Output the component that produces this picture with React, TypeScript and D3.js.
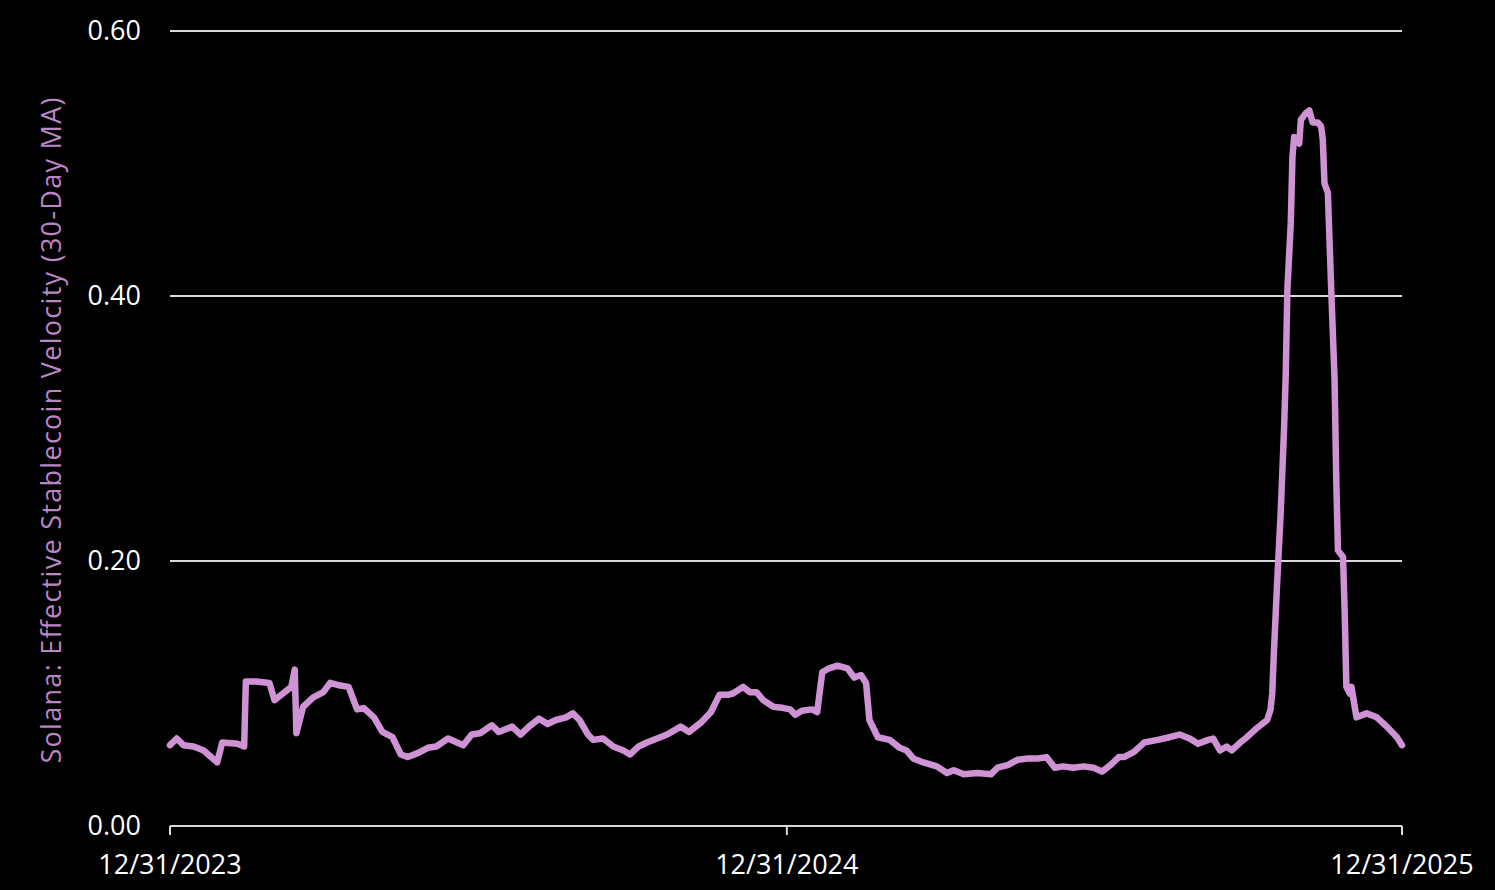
import React from 'react';
import * as d3 from 'd3';

// Solana effective stablecoin velocity, 30-day moving average
const dates: string[] = [
  '2023-12-31', '2024-01-04', '2024-01-08', '2024-01-14', '2024-01-20', '2024-01-28', '2024-01-31',
  '2024-02-09', '2024-02-13', '2024-02-14', '2024-02-20', '2024-02-28', '2024-03-02', '2024-03-07',
  '2024-03-12', '2024-03-14', '2024-03-15', '2024-03-19', '2024-03-25', '2024-03-31', '2024-04-04',
  '2024-04-10', '2024-04-15', '2024-04-20', '2024-04-24', '2024-04-30', '2024-05-05', '2024-05-11',
  '2024-05-16', '2024-05-20', '2024-05-26', '2024-06-01', '2024-06-06', '2024-06-13', '2024-06-22',
  '2024-06-27', '2024-07-02', '2024-07-09', '2024-07-13', '2024-07-21', '2024-07-26', '2024-07-31',
  '2024-08-06', '2024-08-11', '2024-08-16', '2024-08-22', '2024-08-26', '2024-08-30', '2024-09-04',
  '2024-09-07', '2024-09-13', '2024-09-19', '2024-09-25', '2024-09-29', '2024-10-04', '2024-10-09',
  '2024-10-15', '2024-10-21', '2024-10-29', '2024-11-03', '2024-11-10', '2024-11-16', '2024-11-21',
  '2024-11-26', '2024-11-29', '2024-12-05', '2024-12-09', '2024-12-13', '2024-12-17', '2024-12-23',
  '2024-12-29', '2025-01-02', '2025-01-05', '2025-01-09', '2025-01-15', '2025-01-18', '2025-01-21',
  '2025-01-25', '2025-01-30', '2025-02-05', '2025-02-09', '2025-02-13', '2025-02-16', '2025-02-18',
  '2025-02-23', '2025-03-02', '2025-03-08', '2025-03-12', '2025-03-16', '2025-03-22', '2025-03-30',
  '2025-04-05', '2025-04-09', '2025-04-15', '2025-04-23', '2025-05-01', '2025-05-05', '2025-05-11',
  '2025-05-17', '2025-05-23', '2025-05-29', '2025-06-03', '2025-06-08', '2025-06-13', '2025-06-19',
  '2025-06-25', '2025-07-01', '2025-07-06', '2025-07-11', '2025-07-16', '2025-07-19', '2025-07-25',
  '2025-07-31', '2025-08-08', '2025-08-15', '2025-08-21', '2025-08-27', '2025-09-01', '2025-09-07',
  '2025-09-10', '2025-09-14', '2025-09-18', '2025-09-21', '2025-09-26', '2025-09-30', '2025-10-06',
  '2025-10-12', '2025-10-14', '2025-10-15', '2025-10-16', '2025-10-18', '2025-10-20', '2025-10-22',
  '2025-10-23', '2025-10-24', '2025-10-26', '2025-10-27', '2025-10-28', '2025-10-31', '2025-11-01',
  '2025-11-04', '2025-11-06', '2025-11-08', '2025-11-11', '2025-11-13', '2025-11-14', '2025-11-15',
  '2025-11-17', '2025-11-18', '2025-11-19', '2025-11-21', '2025-11-22', '2025-11-23', '2025-11-26',
  '2025-11-27', '2025-11-28', '2025-11-30', '2025-12-01', '2025-12-04', '2025-12-10', '2025-12-16',
  '2025-12-22', '2025-12-28', '2025-12-31',
];

const velocity: number[] = [
  0.061, 0.066, 0.061, 0.060, 0.057, 0.048, 0.063,
  0.062, 0.060, 0.109, 0.109, 0.108, 0.095, 0.100,
  0.105, 0.118, 0.070, 0.090, 0.097, 0.101, 0.108,
  0.106, 0.105, 0.088, 0.089, 0.082, 0.071, 0.067,
  0.054, 0.052, 0.055, 0.059, 0.060, 0.066, 0.061,
  0.069, 0.070, 0.076, 0.071, 0.075, 0.069, 0.075,
  0.081, 0.077, 0.080, 0.082, 0.085, 0.080, 0.069,
  0.065, 0.066, 0.060, 0.057, 0.054, 0.060, 0.063,
  0.066, 0.069, 0.075, 0.071, 0.078, 0.086, 0.099,
  0.099, 0.100, 0.105, 0.101, 0.101, 0.095, 0.090,
  0.089, 0.088, 0.084, 0.087, 0.088, 0.086, 0.116,
  0.119, 0.121, 0.119, 0.112, 0.114, 0.108, 0.080,
  0.067, 0.065, 0.059, 0.057, 0.051, 0.048, 0.045,
  0.040, 0.042, 0.039, 0.040, 0.039, 0.044, 0.046,
  0.050, 0.051, 0.051, 0.052, 0.044, 0.045, 0.044,
  0.045, 0.044, 0.041, 0.046, 0.052, 0.052, 0.056,
  0.063, 0.065, 0.067, 0.069, 0.066, 0.062, 0.065,
  0.066, 0.057, 0.060, 0.057, 0.063, 0.067, 0.074,
  0.080, 0.088, 0.100, 0.131, 0.186, 0.236, 0.299,
  0.340, 0.405, 0.455, 0.505, 0.520, 0.515, 0.533,
  0.538, 0.540, 0.531, 0.531, 0.528, 0.518, 0.485,
  0.478, 0.442, 0.405, 0.337, 0.261, 0.208, 0.203,
  0.161, 0.105, 0.100, 0.105, 0.082, 0.085, 0.082,
  0.075, 0.067, 0.061,
];

const yTicks: number[] = [0, 0.2, 0.4, 0.6];
const xTicks: string[] = ['2023-12-31', '2024-12-31', '2025-12-31'];
const yLabel = 'Solana: Effective Stablecoin Velocity (30-Day MA)';

const W = 1495;
const H = 890;
const margin = { top: 31, right: 93, bottom: 64, left: 170 };
const FONT = '"Open Sans", sans-serif';
const LINE = '#cf92d4';

const parse = d3.timeParse('%Y-%m-%d');

const App = () => {
  const data = dates.map((d, i) => ({ date: parse(d) as Date, value: velocity[i] }));

  const x = d3.scaleTime()
    .domain([parse(xTicks[0]) as Date, parse(xTicks[xTicks.length - 1]) as Date])
    .range([margin.left, W - margin.right]);
  const y = d3.scaleLinear()
    .domain([0, 0.6])
    .range([H - margin.bottom, margin.top]);

  const line = d3.line<{ date: Date; value: number }>()
    .x(d => x(d.date))
    .y(d => y(d.value));

  const fmt = d3.timeFormat('%m/%d/%Y');
  const y0 = y(0);

  return (
    <div style={{ position: 'fixed', inset: 0, background: '#000' }}>
      <svg width={W} height={H} style={{ display: 'block' }}>
        <rect width={W} height={H} fill="#000" />

        {/* gridlines */}
        {yTicks.filter(t => t > 0).map(t => (
          <line key={t} x1={x.range()[0]} x2={x.range()[1]} y1={y(t)} y2={y(t)}
            stroke="#d9d9d9" strokeWidth={2} />
        ))}

        {/* baseline + ticks */}
        <line x1={x.range()[0]} x2={x.range()[1]} y1={y0} y2={y0} stroke="#d9d9d9" strokeWidth={2} />
        {xTicks.map(t => {
          const px = x(parse(t) as Date);
          return (
            <g key={t}>
              <line x1={px} x2={px} y1={y0} y2={y0 + 9} stroke="#d9d9d9" strokeWidth={2} />
              <text x={px} y={y0 + 48} textAnchor="middle" fill="#fff"
                fontFamily={FONT} fontSize={27}>{fmt(parse(t) as Date)}</text>
            </g>
          );
        })}

        {/* y tick labels */}
        {yTicks.map(t => (
          <text key={t} x={141} y={y(t)} dy="0.35em" textAnchor="end" fill="#fff"
            fontFamily={FONT} fontSize={27}>{t.toFixed(2)}</text>
        ))}

        <text transform={`translate(52,${(margin.top + y0) / 2 + 2}) rotate(-90)`}
          textAnchor="middle" dy="0.35em" fill="#bd85c6" fontFamily={FONT} fontSize={27}
          textLength={666} lengthAdjust="spacing">
          {yLabel}
        </text>

        <path d={line(data) || ''} fill="none" stroke={LINE} strokeWidth={6.5}
          strokeLinejoin="round" strokeLinecap="round" />
      </svg>
    </div>
  );
};

export default App;
